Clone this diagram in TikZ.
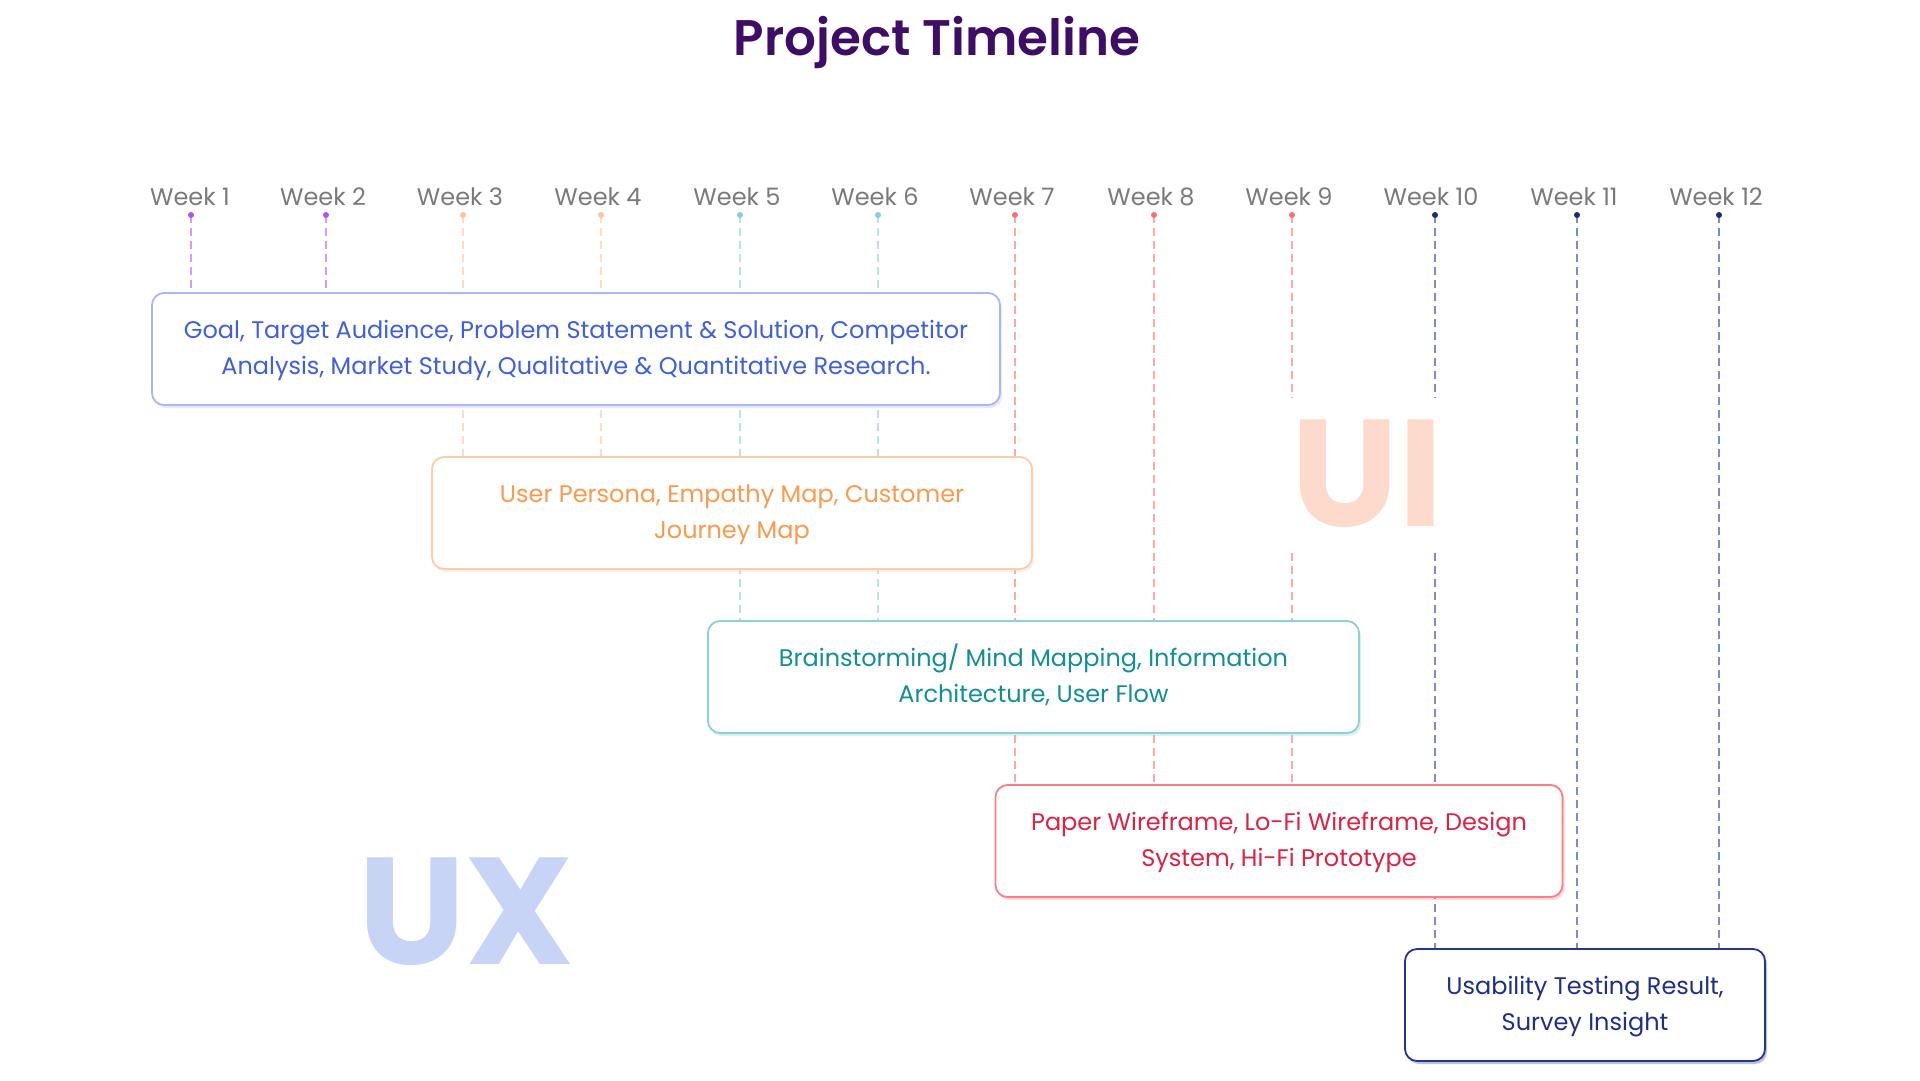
\documentclass[tikz,border=0pt]{standalone}
\usepackage{fontspec}
\setmainfont{Poppins}
\newfontfamily\titlefont{Poppins SemiBold}
\usetikzlibrary{shadows}

\definecolor{titlecol}{HTML}{3E0E66}
\definecolor{weekcol}{HTML}{7A7A7A}
% dot / guide colours per phase
\definecolor{purdot}{HTML}{A855F7}\definecolor{purline}{HTML}{C9A0FA}
\definecolor{oradot}{HTML}{FDC49F}\definecolor{oraline}{HTML}{FDDCC6}
\definecolor{teadot}{HTML}{8CCDD5}\definecolor{tealine}{HTML}{BFE2E7}
\definecolor{reddot}{HTML}{F87171}\definecolor{redline}{HTML}{FBA9AB}
\definecolor{navdot}{HTML}{1E2A78}\definecolor{navline}{HTML}{7E8BC4}
% box colours
\definecolor{bluebd}{HTML}{A9B8F2}\definecolor{bluetx}{HTML}{3F5FDB}
\definecolor{orabd}{HTML}{FCCDA8}\definecolor{oratx}{HTML}{FA9A4F}
\definecolor{teabd}{HTML}{8ED0D9}\definecolor{teatx}{HTML}{118E96}
\definecolor{redbd}{HTML}{F77F85}\definecolor{redtx}{HTML}{DA2344}
\definecolor{navbd}{HTML}{26348C}\definecolor{navtx}{HTML}{1F2F85}
\definecolor{uicol}{HTML}{FDDACB}
\definecolor{uxcol}{HTML}{C8D4F5}

\pgfdeclarelayer{canvas}
\pgfdeclarelayer{guides}
\pgfsetlayers{canvas,guides,main}

\tikzset{
  weeklabel/.style={anchor=base, text=weekcol, font=\fontsize{24}{28}\selectfont, inner sep=0pt},
  weekdot/.style={circle, minimum size=6pt, inner sep=0pt},
  guide/.style={line width=1.8pt, dash pattern=on 8pt off 5pt},
  % two-line text: fixed height/depth keep both lines centred in the box
  taskbox/.style={rounded corners=12pt, line width=1.8pt, fill=white,
    minimum height=112pt, align=center, inner sep=0pt,
    text height=52pt, text depth=2pt,
    font=\fontsize{24}{36}\selectfont},
  boxshadow/.style={drop shadow={shadow xshift=2pt, shadow yshift=-3pt, opacity=0.3, fill=#1}},
  bigmark/.style={font=\fontsize{152}{152}\selectfont\bfseries, fill=white, inner sep=22pt},
}

\begin{document}
\begin{tikzpicture}[x=1pt,y=-1pt]
\begin{pgfonlayer}{canvas}
  \fill[white] (0,0) rectangle (1920,1080);
\end{pgfonlayer}
\useasboundingbox (0,0) rectangle (1920,1080);

\node[anchor=base, text=titlecol, font=\fontsize{50}{56}\titlefont] (title) at (937,55) {Project Timeline};

% task boxes
\node[taskbox, boxshadow=bluebd, draw=bluebd, text=bluetx, minimum width=848pt] (bxA) at (576,349)
  {Goal, Target Audience, Problem Statement \& Solution, Competitor\\Analysis, Market Study, Qualitative \& Quantitative Research.};
\node[taskbox, boxshadow=orabd, draw=orabd, text=oratx, minimum width=600pt] (bxB) at (732,513)
  {User Persona, Empathy Map, Customer\\Journey Map};
\node[taskbox, boxshadow=teabd, draw=teabd, text=teatx, minimum width=651pt] (bxC) at (1033.5,677)
  {Brainstorming/ Mind Mapping, Information\\Architecture, User Flow};
\node[taskbox, boxshadow=redbd, draw=redbd, text=redtx, minimum width=567pt] (bxD) at (1279,841)
  {Paper Wireframe, Lo-Fi Wireframe, Design\\System, Hi-Fi Prototype};
\node[taskbox, boxshadow=navbd, draw=navbd, text=navtx, minimum width=360pt] (bxE) at (1585,1005)
  {Usability Testing Result,\\Survey Insight};

% big background marks
\node[bigmark, text=uicol] (ui) at (1367,473.5) {UI};
\node[bigmark, text=uxcol] (ux) at (466,911.5) {UX};

% weeks, dots and guide lines down to their task box
\foreach \n/\x/\lx/\c/\b in {1/191/190/pur/bxA, 2/326/323/pur/bxA, 3/463/460/ora/bxB, 4/601/598/ora/bxB,
    5/740/737/tea/bxC, 6/878/875/tea/bxC, 7/1015/1012/red/bxD, 8/1154/1151/red/bxD, 9/1292/1289/red/bxD,
    10/1435/1431/nav/bxE, 11/1577/1574/nav/bxE, 12/1719/1716/nav/bxE} {
  \node[weeklabel] (lab\n) at (\lx,205) {Week \n};
  \node[weekdot, fill=\c dot] (w\n) at (\x,215) {};
  \begin{pgfonlayer}{guides}
    \draw[guide, draw=\c line] (w\n.center) -- (w\n |- \b.north);
  \end{pgfonlayer}
}
\end{tikzpicture}
\end{document}
